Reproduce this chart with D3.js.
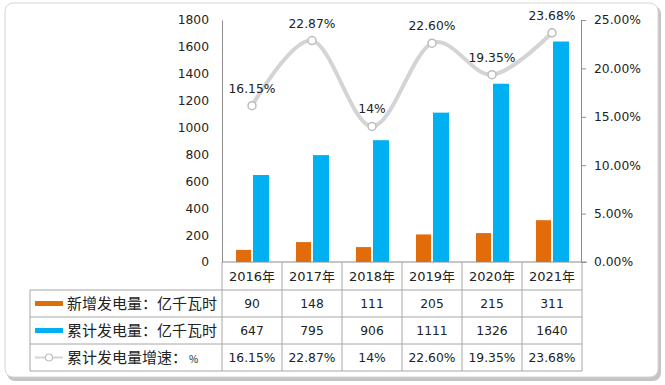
<!DOCTYPE html>
<html>
<head>
<meta charset="utf-8">
<script src="https://cdn.jsdelivr.net/npm/d3@7/dist/d3.min.js"></script>
<style>
  html, body { margin: 0; padding: 0; background: #fff; }
  svg { display: block; font-family: "DejaVu Sans", "Noto Sans CJK SC", sans-serif; }
</style>
</head>
<body>
<svg id="chart" width="665" height="385"></svg>
<script>
const years = ["2016年", "2017年", "2018年", "2019年", "2020年", "2021年"];
const newGen = [90, 148, 111, 205, 215, 311];
const cumGen = [647, 795, 906, 1111, 1326, 1640];
const growth = [16.15, 22.87, 14, 22.60, 19.35, 23.68];
const growthLabels = ["16.15%", "22.87%", "14%", "22.60%", "19.35%", "23.68%"];
const leftTicks = [0, 200, 400, 600, 800, 1000, 1200, 1400, 1600, 1800];
const rightTicks = [0, 5, 10, 15, 20, 25];
const seriesNames = ["新增发电量：亿千瓦时", "累计发电量：亿千瓦时", "累计发电量增速："];

const cOrange = "#E26B0A";
const cBlue = "#00B0F0";
const cLine = "#d4d4d4";
const cGrid = "#a6a6a6";
const cText = "#222";

const svg = d3.select("#chart");

// outer frame with shadow
svg.append("rect").attr("x", 7).attr("y", 6).attr("width", 654).attr("height", 375)
  .attr("rx", 8).attr("fill", "#c4c4c4");
svg.append("rect").attr("x", 5).attr("y", 3).attr("width", 653).attr("height", 374)
  .attr("rx", 8).attr("fill", "#fff").attr("stroke", "#d6d6d6");

const x0 = 222, x1 = 582, yTop = 20, yBase = 262;
const x = d3.scaleBand().domain(years).range([x0, x1]).padding(0);
const y = d3.scaleLinear().domain([0, 1800]).range([yBase, yTop]);
const yR = d3.scaleLinear().domain([0, 25]).range([yBase, yTop]);

// left axis
const gL = svg.append("g").attr("transform", `translate(${x0},0)`)
  .call(d3.axisLeft(y).tickValues(leftTicks).tickFormat(d3.format("d"))
    .tickSize(0).tickSizeOuter(0).tickPadding(13));
gL.select(".domain").attr("stroke", "#8c8c8c");
gL.selectAll("text").attr("fill", cText).style("font-size", "12.3px")
  .style("font-family", '"DejaVu Sans", sans-serif');

// right axis
const gR = svg.append("g").attr("transform", `translate(${x1 - 1},0)`)
  .call(d3.axisRight(yR).tickValues(rightTicks).tickSize(5).tickSizeOuter(0).tickPadding(8)
    .tickFormat(d => d3.format(".2f")(d) + "%"));
gR.select(".domain").attr("stroke", "#8c8c8c");
gR.selectAll(".tick line").attr("stroke", "#8c8c8c");
gR.selectAll("text").attr("fill", cText).style("font-size", "12.3px")
  .style("font-family", '"DejaVu Sans", sans-serif');

// bars
const cx = d => x(d) + x.bandwidth() / 2;
svg.append("g").selectAll("rect").data(years).join("rect")
  .attr("x", d => cx(d) - 16).attr("width", 15)
  .attr("y", (d, i) => y(newGen[i])).attr("height", (d, i) => yBase - y(newGen[i]))
  .attr("fill", cOrange);
svg.append("g").selectAll("rect").data(years).join("rect")
  .attr("x", d => cx(d) + 1).attr("width", 16)
  .attr("y", (d, i) => y(cumGen[i])).attr("height", (d, i) => yBase - y(cumGen[i]))
  .attr("fill", cBlue);

// growth line
const pts = years.map((d, i) => [cx(d), yR(growth[i])]);
svg.append("path").datum(pts)
  .attr("d", d3.line().curve(d3.curveCardinal.tension(0)))
  .attr("fill", "none").attr("stroke", cLine).attr("stroke-width", 4)
  .attr("stroke-linecap", "round");
svg.append("g").selectAll("circle").data(pts).join("circle")
  .attr("cx", d => d[0]).attr("cy", d => d[1]).attr("r", 4)
  .attr("fill", "#fff").attr("stroke", "#bdbdbd").attr("stroke-width", 1.5);
svg.append("g").selectAll("text").data(pts).join("text")
  .attr("x", d => d[0]).attr("y", d => d[1] - 13)
  .attr("text-anchor", "middle").attr("fill", cText)
  .style("font-size", "12.3px")
  .text((d, i) => growthLabels[i]);

// baseline
svg.append("line").attr("x1", x0).attr("x2", x1 + 5).attr("y1", yBase).attr("y2", yBase)
  .attr("stroke", "#8c8c8c");

// data table
const rowY = [262, 290, 317, 344, 371];
const legX = 30;
const grid = svg.append("g").attr("stroke", cGrid).attr("stroke-width", 1).attr("fill", "none");
rowY.slice(1).forEach(ry => grid.append("line").attr("x1", legX).attr("x2", x1).attr("y1", ry).attr("y2", ry));
years.forEach(d => grid.append("line").attr("x1", x(d)).attr("x2", x(d)).attr("y1", yBase).attr("y2", rowY[4]));
grid.append("line").attr("x1", x1).attr("x2", x1).attr("y1", yBase).attr("y2", rowY[4]);
grid.append("line").attr("x1", legX).attr("x2", legX).attr("y1", rowY[1]).attr("y2", rowY[4]);

// header row
svg.append("g").selectAll("text").data(years).join("text")
  .attr("x", d => cx(d)).attr("y", (rowY[0] + rowY[1]) / 2)
  .attr("dy", "0.36em").attr("text-anchor", "middle").attr("fill", cText)
  .style("font-size", "13px").text(d => d);

const rows = [
  newGen.map(String),
  cumGen.map(String),
  growthLabels
];
rows.forEach((vals, r) => {
  const my = (rowY[r + 1] + rowY[r + 2]) / 2;
  svg.append("g").selectAll("text").data(years).join("text")
    .attr("x", d => cx(d)).attr("y", my).attr("dy", "0.36em")
    .attr("text-anchor", "middle").attr("fill", cText)
    .style("font-size", "12.3px").text((d, i) => vals[i]);
  // legend text
  const t = svg.append("text").attr("x", 67).attr("y", my).attr("dy", "0.36em")
    .attr("fill", cText).style("font-size", "15px")
    .style("font-family", '"Noto Sans CJK SC", sans-serif')
    .text(seriesNames[r]);
  if (r === 2) {
    t.append("tspan").style("font-size", "10px").attr("dx", 2).text("%");
  }
});
// legend swatches
const m1 = (rowY[1] + rowY[2]) / 2, m2 = (rowY[2] + rowY[3]) / 2, m3 = (rowY[3] + rowY[4]) / 2;
svg.append("rect").attr("x", 35).attr("y", m1 - 2.5).attr("width", 28).attr("height", 5).attr("fill", cOrange);
svg.append("rect").attr("x", 35).attr("y", m2 - 2.5).attr("width", 28).attr("height", 5).attr("fill", cBlue);
svg.append("line").attr("x1", 35).attr("x2", 63).attr("y1", m3).attr("y2", m3)
  .attr("stroke", cLine).attr("stroke-width", 2);
svg.append("circle").attr("cx", 49).attr("cy", m3).attr("r", 3.5)
  .attr("fill", "#fff").attr("stroke", "#bdbdbd").attr("stroke-width", 1.2);
</script>
</body>
</html>
